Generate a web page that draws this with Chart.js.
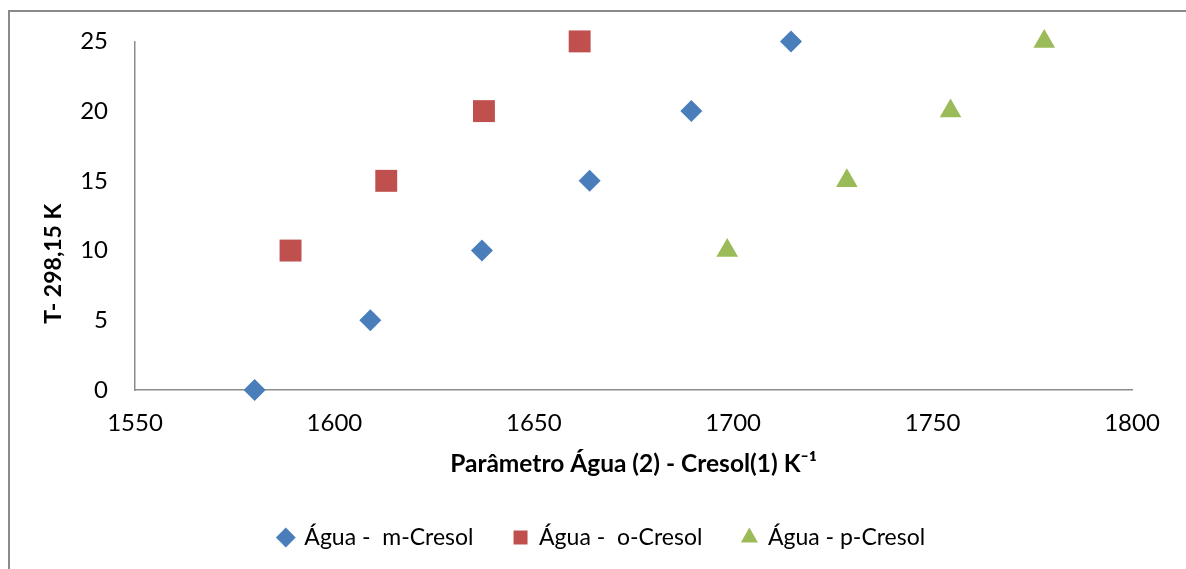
<!DOCTYPE html>
<html>
<head>
<meta charset="utf-8">
<script src="https://cdn.jsdelivr.net/npm/chart.js@4"></script>
<style>
  html, body { margin: 0; padding: 0; background: #fff; }
  #wrap { position: relative; width: 1186px; height: 569px; }
</style>
</head>
<body>
<div id="wrap"><canvas id="grafico"></canvas></div>
<script>
// --- DADOS ---
const mCresolX = [1580, 1609, 1637, 1664, 1689.5, 1714.5];
const mCresolY = [0, 5, 10, 15, 20, 25];
const oCresolX = [1589, 1613, 1637.5, 1661.5];
const oCresolY = [10, 15, 20, 25];
const pCresolX = [1698.5, 1728.5, 1754.5, 1778];
const pCresolY = [10, 15, 20, 25];

const seriesNomes = ['Água -  m-Cresol', 'Água -  o-Cresol', 'Água - p-Cresol'];
const tituloX = 'Parâmetro Água (2) - Cresol(1) K⁻¹';
const tituloY = 'T- 298,15 K';

const fonte = 'Lato, "Open Sans", sans-serif';

function pares(xs, ys) {
    return xs.map((x, i) => ({ x: x, y: ys[i] }));
}

// moldura cinza em volta do gráfico
const moldura = {
    id: 'moldura',
    beforeDraw(chart) {
        const ctx = chart.ctx;
        ctx.save();
        ctx.strokeStyle = '#8a8a8a';
        ctx.lineWidth = 2;
        ctx.beginPath();
        ctx.moveTo(9, 569);
        ctx.lineTo(9, 11);
        ctx.lineTo(1186, 11);
        ctx.stroke();
        ctx.restore();
    }
};

// título do eixo Y (um pouco abaixo do centro, como no original)
const tituloEixoY = {
    id: 'tituloEixoY',
    afterDraw(chart) {
        const { top, bottom } = chart.chartArea;
        const ctx = chart.ctx;
        ctx.save();
        ctx.translate(54, (top + bottom) / 2 + 48);
        ctx.rotate(-Math.PI / 2);
        ctx.textAlign = 'center';
        ctx.textBaseline = 'middle';
        ctx.fillStyle = '#000';
        ctx.font = 'bold 23px ' + fonte;
        ctx.fillText(tituloY, 0, 0);
        ctx.restore();
    }
};

const ctx = document.getElementById('grafico').getContext('2d');
new Chart(ctx, {
    type: 'scatter',
    data: {
        datasets: [
            {
                label: seriesNomes[0],
                data: pares(mCresolX, mCresolY),
                pointStyle: 'rectRot',
                pointRadius: 11,
                backgroundColor: '#4a7ebb',
                borderColor: '#4a7ebb',
                borderWidth: 0,
                clip: false
            },
            {
                label: seriesNomes[1],
                data: pares(oCresolX, oCresolY),
                pointStyle: 'rect',
                pointRadius: 15.5,
                backgroundColor: '#c0504d',
                borderColor: '#c0504d',
                borderWidth: 0,
                clip: false
            },
            {
                label: seriesNomes[2],
                data: pares(pCresolX, pCresolY),
                pointStyle: 'triangle',
                pointRadius: 12.5,
                backgroundColor: '#9bbb59',
                borderColor: '#9bbb59',
                borderWidth: 0,
                clip: false
            }
        ]
    },
    options: {
        responsive: true,
        maintainAspectRatio: false,
        animation: false,
        layout: { padding: { top: 40, right: 0, left: 18, bottom: 10 } },
        plugins: {
            tooltip: { enabled: false },
            legend: {
                position: 'bottom',
                labels: {
                    usePointStyle: true,
                    boxWidth: 14,
                    boxHeight: 14,
                    padding: 40,
                    color: '#000',
                    font: { family: fonte, size: 23 }
                }
            }
        },
        scales: {
            x: {
                type: 'linear',
                min: 1550,
                max: 1800,
                grid: { display: false, drawTicks: false },
                border: { display: true, color: '#8c8c8c', width: 1.5 },
                ticks: {
                    stepSize: 50, padding: 19, color: '#000',
                    font: { family: fonte, size: 24 },
                    callback: (v) => String(v)
                },
                title: {
                    display: true,
                    text: tituloX,
                    color: '#000',
                    font: { family: fonte, size: 24.5, weight: 'bold' },
                    padding: { top: 0, bottom: 7 }
                },
                afterFit(scale) { scale.height = 96; }
            },
            y: {
                type: 'linear',
                min: 0,
                max: 25,
                grid: { display: false, drawTicks: false },
                border: { display: true, color: '#8c8c8c', width: 1.5 },
                ticks: {
                    stepSize: 5, padding: 27, color: '#000',
                    font: { family: fonte, size: 24 },
                    callback: (v) => String(v)
                },
                afterFit(scale) { scale.width = 117; }
            },
            // espaço vazio à direita da área do gráfico
            direita: {
                type: 'linear',
                position: 'right',
                display: true,
                grid: { display: false, drawTicks: false },
                border: { display: false },
                ticks: { display: false },
                afterFit(scale) { scale.width = 54; }
            }
        }
    },
    plugins: [moldura, tituloEixoY]
});
</script>
</body>
</html>
